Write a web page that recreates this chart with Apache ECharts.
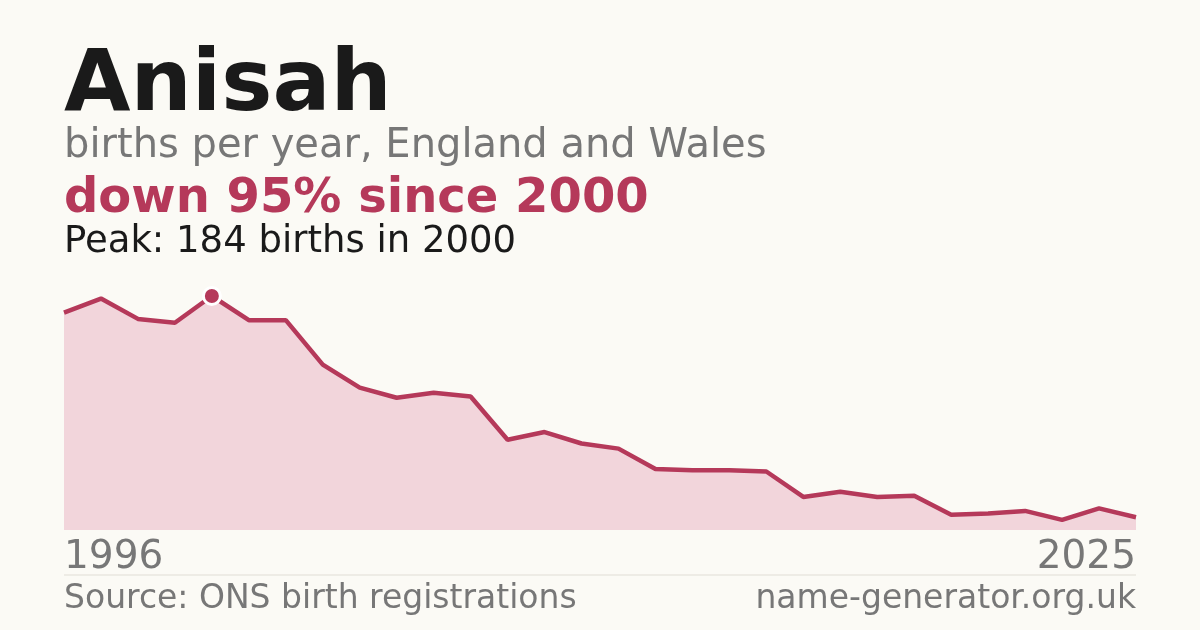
<!DOCTYPE html><html><head><meta charset="utf-8">
<script src="https://cdn.jsdelivr.net/npm/echarts@6/dist/echarts.min.js"></script>
<style>body{margin:0;background:#fbfaf5}#c{width:1200px;height:630px}</style></head><body><div id="c"></div>
<script>
const years=[];for(let y=1996;y<=2025;y++)years.push(String(y));
const births=[171,182,166,163,184,165,165,130,112,104,108,105,71,77,68,64,48,47,47,46,26,30,26,27,12,13,15,8,17,10];
const peakIndex=4;
const F='DejaVu Sans';
const c=echarts.init(document.getElementById('c'));
c.setOption({backgroundColor:'#fbfaf5',animation:false,
grid:{left:64,right:64,top:296,bottom:100},
xAxis:{type:'category',data:years,boundaryGap:false,axisLine:{show:false},axisTick:{show:false},axisLabel:{show:false}},
yAxis:{type:'value',min:0,max:184,show:false,splitLine:{show:false}},
series:[{type:'line',data:births,symbol:'none',lineStyle:{color:'#b5395a',width:4.5},areaStyle:{color:'#f2d5db',opacity:1},
markPoint:{symbol:'circle',symbolSize:17,itemStyle:{color:'#b5395a',borderColor:'#fff',borderWidth:3},label:{show:false},data:[{coord:[peakIndex,births[peakIndex]]}]}}],
graphic:[
{type:'text',left:64,top:45,style:{text:'Anisah',font:'bold 86px '+F,fill:'#1a1a1a'}},
{type:'text',left:64,top:127,style:{text:'births per year, England and Wales',font:'40px '+F,fill:'#777'}},
{type:'text',left:64,top:176,style:{text:'down 95% since 2000',font:'bold 48px '+F,fill:'#b5395a'}},
{type:'text',left:64,top:224,style:{text:'Peak: 184 births in 2000',font:'37px '+F,fill:'#1a1a1a'}},
{type:'text',left:64,top:538,style:{text:years[0],font:'39px '+F,fill:'#777'}},
{type:'text',right:64,top:538,style:{text:years[years.length-1],font:'39px '+F,fill:'#777',align:'right'}},
{type:'line',shape:{x1:64,y1:575,x2:1136,y2:575},style:{stroke:'#e0ddd5',lineWidth:1}},
{type:'text',left:64,top:583,style:{text:'Source: ONS birth registrations',font:'33px '+F,fill:'#777'}},
{type:'text',right:64,top:583,style:{text:'name-generator.org.uk',font:'33px '+F,fill:'#777',align:'right'}}
]});
</script></body></html>
